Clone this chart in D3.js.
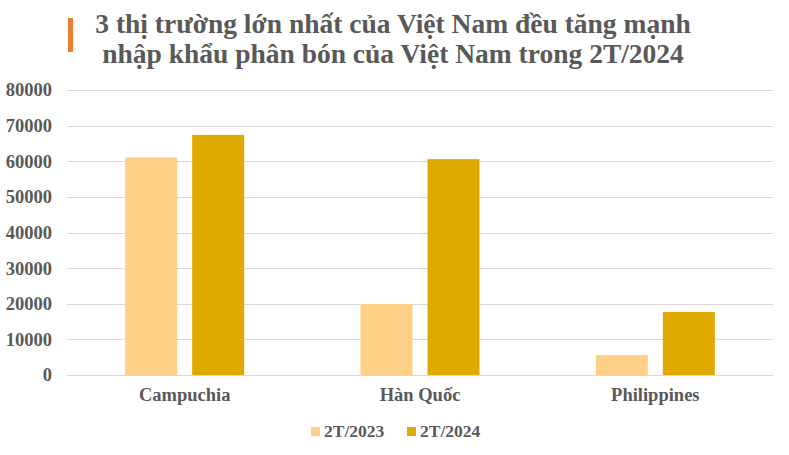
<!DOCTYPE html>
<html>
<head>
<meta charset="utf-8">
<script src="https://cdn.jsdelivr.net/npm/d3@7"></script>
<style>
	body { margin: 0; background: #fff; }
	text { font-family: "Liberation Serif", "Times New Roman", serif; font-weight: bold; fill: #595959; }
</style>
</head>
<body>
<svg id="chart"></svg>
<script>
// Fertilizer imports, top 3 markets, first two months 2023 vs 2024
var categories = ['Campuchia', 'Hàn Quốc', 'Philippines'];
var seriesNames = ['2T/2023', '2T/2024'];
var values2023 = [61100, 19950, 5600];
var values2024 = [67400, 60600, 17700];
var yTicks = [0, 10000, 20000, 30000, 40000, 50000, 60000, 70000, 80000];
var titleLines = ['3 thị trường lớn nhất của Việt Nam đều tăng mạnh', 'nhập khẩu phân bón của Việt Nam trong 2T/2024'];
var colors = ['#FFD186', '#E0A900'];

var W = 789, H = 455;
var svg = d3.select('#chart').attr('width', W).attr('height', H);

// title with orange marker
svg.append('rect').attr('x', 68).attr('y', 18).attr('width', 5).attr('height', 34).attr('fill', '#ED7D31');
svg.selectAll('.title')
	.data(titleLines)
	.join('text')
		.attr('class', 'title')
		.attr('x', 393)
		.attr('y', function(d, i) { return 33 + i * 30; })
		.attr('text-anchor', 'middle')
		.style('font-size', '27.5px')
		.text(function(d) { return d; });

var plotLeft = 67, plotRight = 773, plotTop = 90, plotBottom = 375;

var y = d3.scaleLinear().domain([0, 80000]).range([plotBottom, plotTop]);
var x0 = d3.scaleBand().domain(categories).range([plotLeft, plotRight]).padding(0);
var groupW = 119;
var x1 = d3.scaleBand().domain(seriesNames)
	.range([(x0.bandwidth() - groupW) / 2, (x0.bandwidth() + groupW) / 2])
	.paddingInner(0.224).paddingOuter(0);

// gridlines
svg.append('g')
	.selectAll('line')
	.data(yTicks)
	.join('line')
		.attr('x1', plotLeft).attr('x2', plotRight)
		.attr('y1', function(d) { return Math.round(y(d)) + 0.5; })
		.attr('y2', function(d) { return Math.round(y(d)) + 0.5; })
		.attr('stroke', '#d9d9d9').attr('stroke-width', 1);

// y axis labels
var yAxis = svg.append('g')
	.attr('transform', 'translate(' + (plotLeft - 15) + ',0)')
	.call(d3.axisLeft(y).tickValues(yTicks).tickSize(0).tickPadding(0).tickFormat(d3.format('d')));
yAxis.select('.domain').remove();
yAxis.selectAll('text').style('font-size', '18.5px').attr('fill', '#595959');

var rows = categories.map(function(c, i) {
	return {cat: c, vals: [values2023[i], values2024[i]]};
});

var groups = svg.append('g').selectAll('g')
	.data(rows)
	.join('g')
		.attr('transform', function(d) { return 'translate(' + x0(d.cat) + ',0)'; });

groups.selectAll('rect')
	.data(function(d) { return d.vals.map(function(v, j) { return {name: seriesNames[j], v: v, j: j}; }); })
	.join('rect')
		.attr('x', function(d) { return x1(d.name); })
		.attr('width', x1.bandwidth())
		.attr('y', function(d) { return y(d.v); })
		.attr('height', function(d) { return plotBottom - y(d.v); })
		.attr('fill', function(d) { return colors[d.j]; });

// category labels
var xAxis = svg.append('g')
	.attr('transform', 'translate(0,' + plotBottom + ')')
	.call(d3.axisBottom(x0).tickSize(0).tickPadding(13));
xAxis.select('.domain').remove();
xAxis.selectAll('text').style('font-size', '18.5px').attr('fill', '#595959');

// legend
var legendX = [311, 407];
var legend = svg.append('g').selectAll('g')
	.data(seriesNames)
	.join('g')
		.attr('transform', function(d, i) { return 'translate(' + legendX[i] + ',427)'; });
legend.append('rect').attr('width', 9).attr('height', 9)
	.attr('fill', function(d, i) { return colors[i]; });
legend.append('text').attr('x', 13).attr('y', 10)
	.style('font-size', '17.5px')
	.text(function(d) { return d; });
</script>
</body>
</html>
